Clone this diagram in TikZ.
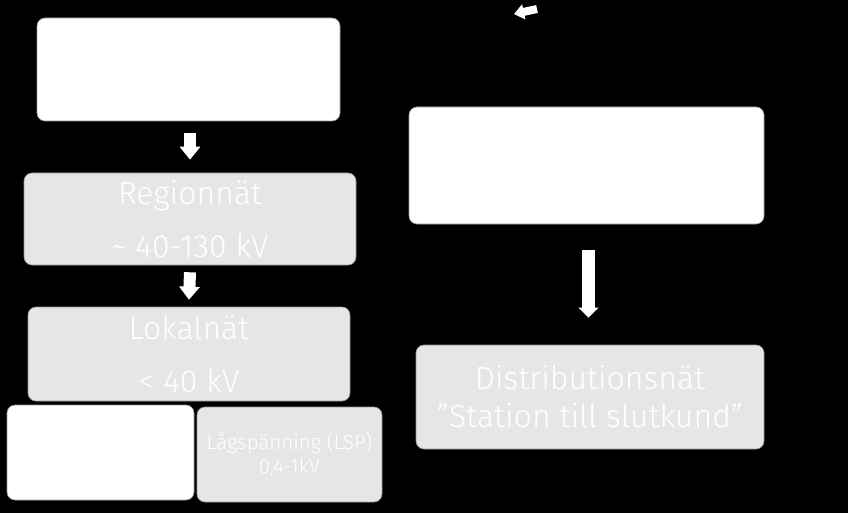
\documentclass[tikz,border=0pt]{standalone}
\usepackage{fontspec}
\setmainfont{Fira Sans Light}
\usetikzlibrary{arrows.meta}
\definecolor{boxgray}{RGB}{230,230,230}
\definecolor{edgegray}{RGB}{150,150,150}
\tikzset{
  whitebox/.style={draw=edgegray, line width=0.6pt, fill=white, rounded corners=8pt, inner sep=0pt},
  graybox/.style={draw=edgegray, line width=0.6pt, fill=boxgray, rounded corners=8pt, inner sep=0pt, text=white, align=center},
  blockarr/.style={draw=white, line width=12pt, -{Triangle[width=20pt,length=13pt]}, white},
  bigtxt/.style={font=\fontsize{32}{53}\selectfont},
  midtxt/.style={font=\fontsize{32}{38}\selectfont},
  smalltxt/.style={font=\fontsize{20.5}{24}\selectfont}
}
\begin{document}
\begin{tikzpicture}[x=1pt,y=-1pt]
\fill[black] (0,0) rectangle (848,513);
\useasboundingbox (0,0) rectangle (848,513);

\node[whitebox, minimum width=303pt, minimum height=103pt] (A) at (188.5,69.5) {};
\node[graybox, bigtxt, minimum width=332pt, minimum height=92pt] (B) at (190,219) {Regionnät\\\textasciitilde{} 40-130 kV};
\node[graybox, bigtxt, minimum width=322pt, minimum height=94pt] (C) at (189,354) {Lokalnät\\< 40 kV};
\node[whitebox, minimum width=187pt, minimum height=95pt] (D) at (100.5,452.5) {};
\node[graybox, smalltxt, minimum width=185pt, minimum height=95pt] (E) at (289.5,454.5) {Lågspänning (LSP)\\0,4-1kV};
\node[whitebox, minimum width=355pt, minimum height=117pt] (F) at (586.5,165.5) {};
\node[graybox, midtxt, minimum width=348pt, minimum height=104pt] (G) at (590,397) {Distributionsnät\\"Station till slutkund"};

\draw[blockarr] ([yshift=-12pt]B.north |- A.south) -- ([yshift=13pt]B.north);
\draw[blockarr] ([yshift=-7pt]B.south) -- ([yshift=7pt]C.north);
\draw[blockarr, line width=13pt, -{Triangle[width=19pt,length=10pt]}] ([xshift=2pt,yshift=-26pt]F.south) -- ([xshift=-1.5pt,yshift=27pt]G.north);

\coordinate (t1) at (537,9);
\coordinate (t2) at (514,14);
\draw[blockarr, line width=8pt, -{Triangle[width=15pt,length=10pt]}] (t1) -- (t2);
\end{tikzpicture}
\end{document}
